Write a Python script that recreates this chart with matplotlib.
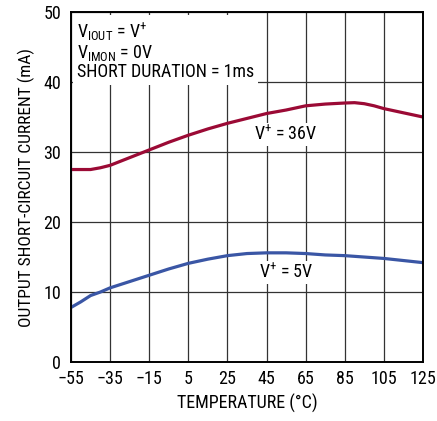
import matplotlib
matplotlib.use('Agg')
import matplotlib.pyplot as plt

temps_36v = [-55, -50, -45, -40, -35, -25, -15, -5, 5, 15, 25, 35, 45, 55, 65, 75, 85, 90, 95, 100, 105, 115, 125]
i_36v = [27.5, 27.5, 27.5, 27.75, 28.1, 29.2, 30.3, 31.4, 32.4, 33.3, 34.1, 34.8, 35.5, 36.0, 36.6, 36.85, 37.0,
         37.05, 36.9, 36.6, 36.2, 35.6, 35.0]
temps_5v = [-55, -50, -45, -40, -35, -25, -15, -5, 5, 15, 25, 35, 45, 55, 65, 75, 85, 95, 105, 115, 125]
i_5v = [7.8, 8.6, 9.5, 10.0, 10.6, 11.5, 12.4, 13.3, 14.1, 14.7, 15.2, 15.5, 15.6, 15.6, 15.5, 15.3, 15.2, 15.0,
        14.8, 14.5, 14.2]
xticks = [-55, -35, -15, 5, 25, 45, 65, 85, 105, 125]
xticklabels = ['\u221255', '\u221235', '\u221215', '5', '25', '45', '65', '85', '105', '125']
yticks = [0, 10, 20, 30, 40, 50]

plt.rcParams['font.family'] = ['Roboto Condensed', 'DejaVu Sans']
plt.rcParams['mathtext.fontset'] = 'custom'
plt.rcParams['mathtext.rm'] = 'Roboto Condensed'
plt.rcParams['mathtext.it'] = 'Roboto Condensed'
plt.rcParams['mathtext.default'] = 'rm'

fig = plt.figure(figsize=(4.37, 4.21), dpi=100)
ax = fig.add_axes([0.1625, 0.140, 0.8055, 0.8315])

ax.plot(temps_36v, i_36v, color='#9b0a35', lw=2.3, solid_capstyle='butt', zorder=4)
ax.plot(temps_5v, i_5v, color='#3a56a5', lw=2.3, solid_capstyle='butt', zorder=4)

ax.set_xlim(-55, 125)
ax.set_ylim(0, 50)
ax.set_xticks(xticks)
ax.set_xticklabels(xticklabels)
ax.set_yticks(yticks)
ax.grid(True, color='#333333', lw=0.9)
ax.tick_params(length=0, labelsize=13)
ax.tick_params(axis='x', pad=6)
ax.tick_params(axis='y', pad=7)
for s in ax.spines.values():
    s.set_linewidth(1.4)
    s.set_zorder(5)

ax.set_xlabel('TEMPERATURE (\u00b0C)', fontsize=13, labelpad=4)
ax.set_ylabel('OUTPUT SHORT-CIRCUIT CURRENT (mA)', fontsize=12.5, labelpad=6)

ax.text(-52, 48.8, '$V_{IOUT}$ = V$^{+}$\n$V_{IMON}$ = 0V\nSHORT DURATION = 1ms',
        fontsize=13, va='top', ha='left', linespacing=1.0, zorder=3,
        bbox=dict(facecolor='white', edgecolor='none', pad=3))
ax.text(55, 32.5, 'V$^{+}$ = 36V', fontsize=13, ha='center', va='center', zorder=3,
        bbox=dict(facecolor='white', edgecolor='none', pad=1))
ax.text(55, 12.8, 'V$^{+}$ = 5V', fontsize=13, ha='center', va='center', zorder=3,
        bbox=dict(facecolor='white', edgecolor='none', pad=1))

fig.savefig('out.png', dpi=100)
